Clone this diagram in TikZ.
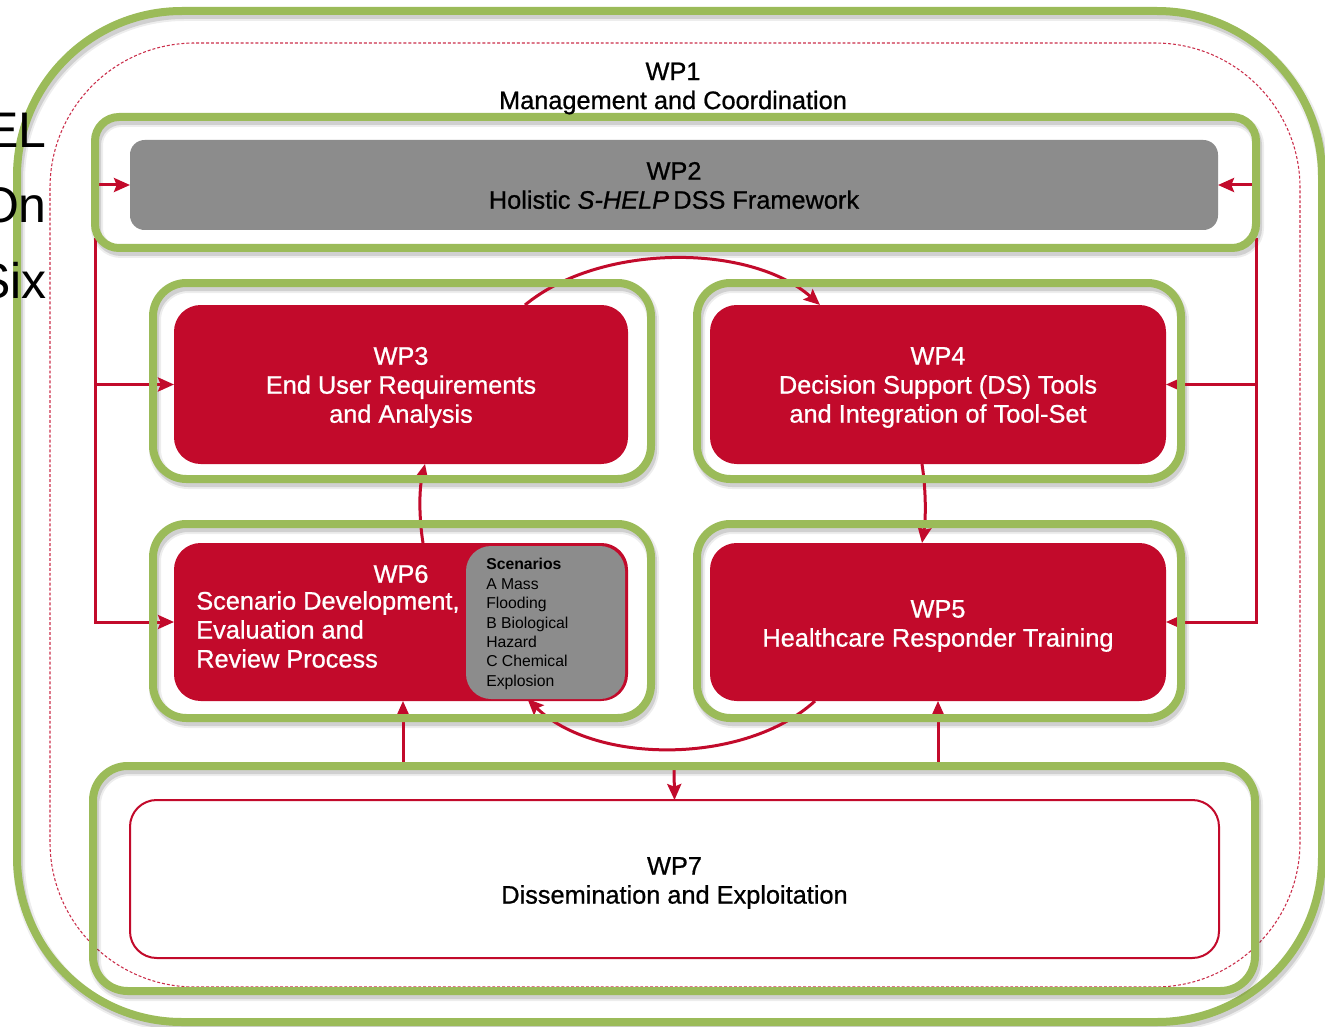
\documentclass[tikz,border=0pt]{standalone}
\usepackage{fontspec}
\setmainfont{Liberation Sans}
\newfontfamily\heavyfont[FakeBold=0.8]{Liberation Sans}
\usetikzlibrary{arrows.meta,calc}
\definecolor{wpred}{RGB}{194,10,43}
\definecolor{wpgreen}{RGB}{155,187,89}
\definecolor{wpgrey}{RGB}{140,140,140}
\pgfdeclarelayer{bg}
\pgfdeclarelayer{shadowl}
\pgfdeclarelayer{conn}
\pgfdeclarelayer{frames}
\pgfsetlayers{bg,shadowl,conn,frames,main}
\newcommand\mainfs{\heavyfont\fontsize{19}{21.75}\selectfont}
\newcommand\smallfs{\fontsize{11.8}{14.55}\selectfont}
\tikzset{
  gframe/.style={rectangle,inner sep=0pt,outer sep=0pt},
  redbox/.style={rectangle,inner sep=0pt,outer sep=0pt,fill=wpred,rounded corners=20pt},
  greybox/.style={rectangle,inner sep=0pt,outer sep=0pt,fill=wpgrey,rounded corners=11pt},
  scenbox/.style={rectangle,inner sep=0pt,outer sep=0pt,fill=wpgrey,rounded corners=18.75pt},
  wpsevenbox/.style={rectangle,inner sep=0pt,outer sep=0pt,draw=wpred,line width=1.5pt,fill=white,rounded corners=20pt},
  whitetxt/.style={inner sep=0pt,text=white,align=center,font=\mainfs},
  blacktxt/.style={inner sep=0pt,text=black,align=center,font=\mainfs},
  greenline/.style={draw=wpgreen,line width=6pt},
  gshadowa/.style={draw=black,line width=9pt,opacity=0.07,transform canvas={xshift=1.5pt,yshift=-3pt}},
  gshadowb/.style={draw=black,line width=6pt,opacity=0.12,transform canvas={xshift=1.5pt,yshift=-3pt}},
  conn/.style={draw=wpred,line width=2.25pt},
  arr/.style={conn,-{Stealth[length=12pt,width=10.5pt,inset=2pt]}},
  bigtxt/.style={anchor=base east,inner sep=0pt,font=\fontsize{37.5}{40}\selectfont},
}
\begin{document}
\begin{tikzpicture}[x=0.75pt,y=-0.75pt]
\useasboundingbox (0,0) rectangle (1325,1027);
\clip (0,0) rectangle (1325,1027);

% anchors for green frames
\node[gframe,minimum width=870.75pt,minimum height=98.25pt] (wp2g) at (675.5,182.5) {};
\node[gframe,minimum width=373.5pt,minimum height=147pt] (wp3g) at (402,381) {};
\node[gframe,minimum width=363pt,minimum height=147pt] (wp4g) at (939,381) {};
\node[gframe,minimum width=373.5pt,minimum height=145.5pt] (wp6g) at (402,621) {};
\node[gframe,minimum width=363pt,minimum height=145.5pt] (wp5g) at (939,621) {};
\node[gframe,minimum width=871.5pt,minimum height=168.75pt] (wp7g) at (674,878.5) {};

% boxes
\node[greybox,minimum width=816pt,minimum height=67.5pt] (wp2) at (674,185) {};
\node[redbox,minimum width=340.5pt,minimum height=119.25pt] (wp3) at (401,384.5) {};
\node[redbox,minimum width=342pt,minimum height=119.25pt] (wp4) at (938,384.5) {};
\node[redbox,minimum width=340.5pt,minimum height=118.5pt] (wp6) at (401,622) {};
\node[scenbox,minimum width=119.25pt,minimum height=114.75pt] (scen) at (545.5,622.5) {};
\node[redbox,minimum width=342pt,minimum height=118.5pt] (wp5) at (938,622) {};
\node[wpsevenbox,minimum width=816.75pt,minimum height=118.5pt] (wp7) at (674.5,879) {};

% texts
\node[blacktxt] (wp1t) at (673,88.5) {WP1\\Management and Coordination};
\node[blacktxt] (wp2t) at (674,185.5) {WP2\\Holistic \textit{S-HELP}\,DSS Framework};
\node[whitetxt] (wp3t) at (401,387.5) {WP3\\End User Requirements\\and Analysis};
\node[whitetxt] (wp4t) at (938,387.5) {WP4\\Decision Support (DS) Tools\\and Integration of Tool-Set};
\node[whitetxt] (wp5t) at (938,626) {WP5\\Healthcare Responder Training};
\node[whitetxt] (wp6t) at (401,574) {WP6};
\node[whitetxt,anchor=west,align=left] (wp6d) at (196,629.5) {Scenario Development,\\Evaluation and\\Review Process};
\node[anchor=west,align=left,font=\smallfs,inner sep=0pt] (scent) at (486,624) {\textbf{Scenarios}\\A Mass\\Flooding\\B Biological\\Hazard\\C Chemical\\Explosion};
\node[blacktxt] (wp7t) at (674.5,883) {WP7\\Dissemination and Exploitation};

\begin{pgfonlayer}{bg}
  \fill[white] (0,0) rectangle (1325,1027);
\end{pgfonlayer}

\begin{pgfonlayer}{shadowl}
  \draw[gshadowa,rounded corners=123.75pt] (17,11) rectangle (1322,1022);
  \draw[gshadowb,rounded corners=123.75pt] (17,11) rectangle (1322,1022);
  \draw[greenline,rounded corners=123.75pt] (17,11) rectangle (1322,1022);
  \draw[wpred!85,line width=0.8pt,dash pattern=on 2.2pt off 1.5pt,rounded corners=108.75pt] (50,43) rectangle (1300,987);
  \foreach \n/\r in {wp2g/18pt,wp3g/25pt,wp4g/25pt,wp5g/25pt,wp6g/25pt,wp7g/26pt}{
    \draw[gshadowa,rounded corners=\r] (\n.south west) rectangle (\n.north east);
    \draw[gshadowb,rounded corners=\r] (\n.south west) rectangle (\n.north east);
  }
  \node[bigtxt] (t1) at (47,148) {EL};
  \node[bigtxt] (t2) at (47,223) {On};
  \node[bigtxt] (t3) at (47,298) {Six};
\end{pgfonlayer}

\begin{pgfonlayer}{conn}
  % left bus
  \draw[arr] ($(wp2g.south west)+(0,-10)$) -- (wp2g.south west |- wp6.west) -- (wp6.west);
  \draw[arr] (wp2g.south west |- wp3.west) -- (wp3.west);
  \draw[arr] (wp2g.west |- wp2.west) -- (wp2.west);
  % right bus
  \draw[arr] ($(wp2g.south east)+(0,-10)$) -- (wp2g.south east |- wp5.east) -- (wp5.east);
  \draw[arr] (wp2g.south east |- wp4.east) -- (wp4.east);
  \draw[arr] (wp2g.east |- wp2.east) -- (wp2.east);
  % arcs
  \draw[arr] ($(wp3.north)+(124,0)$) .. controls (600,243) and (750,243) .. ($(wp4.north)+(-118,0)$);
  \draw[arr] ($(wp5.south)+(-123,0)$) .. controls (745,765) and (595,765) .. ($(scen.south)+(-18,0)$);
  % verticals
  \draw[arr] ($(wp6.north)+(22,0)$) .. controls (419,518) and (419,490) .. ($(wp3.south)+(24,0)$);
  \draw[arr] ($(wp4.south)+(-16,0)$) .. controls (926,490) and (926,518) .. ($(wp5.north)+(-16,0)$);
  % WP7 links
  \coordinate (u6) at ($(wp6.south)+(2,0)$);
  \draw[arr] (u6 |- wp7g.north) -- (u6);
  \draw[arr] (wp5.south |- wp7g.north) -- (wp5.south);
  \draw[arr] (wp7g.north) -- (wp7.north);
\end{pgfonlayer}

\begin{pgfonlayer}{frames}
  \foreach \n/\r in {wp2g/18pt,wp3g/25pt,wp4g/25pt,wp5g/25pt,wp6g/25pt,wp7g/26pt}{
    \draw[greenline,rounded corners=\r] (\n.south west) rectangle (\n.north east);
  }
\end{pgfonlayer}
\end{tikzpicture}
\end{document}
